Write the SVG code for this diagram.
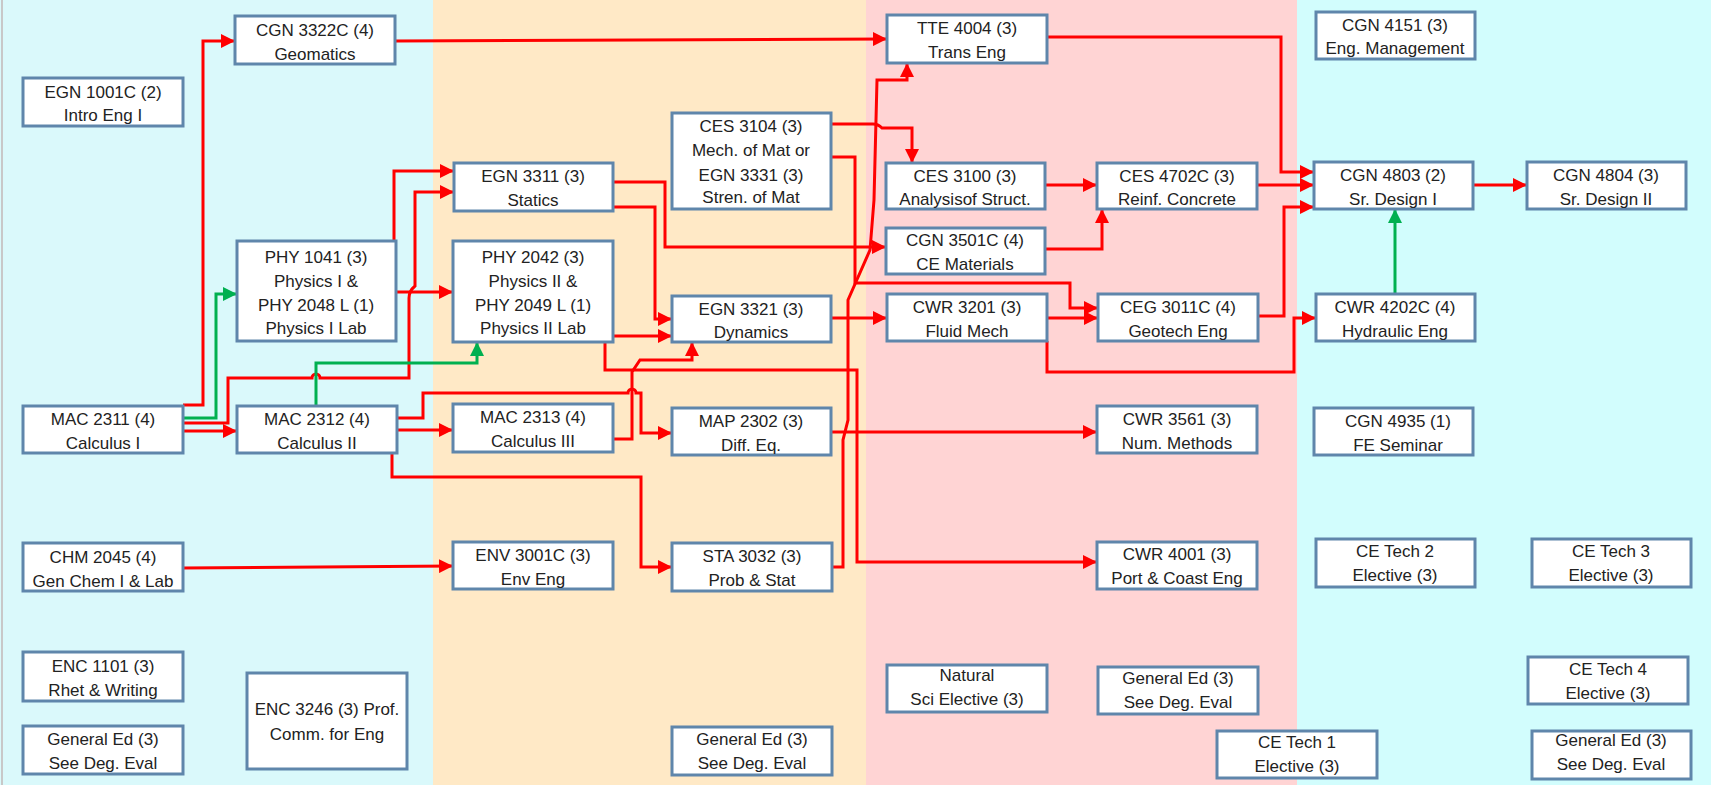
<svg xmlns="http://www.w3.org/2000/svg" width="1711" height="785" viewBox="0 0 1711 785">
<defs>
<style>
.b{fill:#fff;stroke:#5F86AB;stroke-width:3}
.t{font-family:"Liberation Sans",Arial,sans-serif;font-size:17px;fill:#222;text-anchor:middle}
.r{fill:none;stroke:#FF0000;stroke-width:3;stroke-linejoin:miter}
.g{fill:none;stroke:#00B050;stroke-width:3}
.ar{marker-end:url(#ra)}
.ag{marker-end:url(#ga)}
</style>
<marker id="ra" markerUnits="userSpaceOnUse" markerWidth="14" markerHeight="14" refX="12" refY="6" orient="auto" viewBox="0 0 12 12"><path d="M0,0 L12,6 L0,12 z" fill="#FF0000"/></marker>
<marker id="ga" markerUnits="userSpaceOnUse" markerWidth="14" markerHeight="14" refX="12" refY="6" orient="auto" viewBox="0 0 12 12"><path d="M0,0 L12,6 L0,12 z" fill="#00B050"/></marker>
</defs>
<g id="background">
<rect x="0" y="0" width="433" height="785" fill="#DAF9FB"/>
<rect x="433" y="0" width="433" height="785" fill="#FFE9C6"/>
<rect x="866" y="0" width="431" height="785" fill="#FFD4D4"/>
<rect x="1297" y="0" width="414" height="785" fill="#D2FDFD"/>
<line x1="2" y1="0" x2="2" y2="785" stroke="#C8C8C8" stroke-width="2"/>
</g>
<g id="connectors">
<path class="r ar" d="M183,405 H203 V41 H235"/>
<path class="g ag" d="M183,418 H216 V294 H237"/>
<path class="r ar" d="M183,423 H228 V378 H312 a4,4 0 0 1 8,0 H409 V298 Q409,291 415,286 V192 H454"/>
<path class="r ar" d="M394,241 V171 H454"/>
<path class="r ar" d="M396,292 H453"/>
<path class="r ar" d="M183,431 H237"/>
<path class="g ag" d="M316,406 V363 H477 V342"/>
<path class="r ar" d="M397,430 H453"/>
<path class="r ar" d="M397,418 H423 V393 H628 a4,4 0 0 1 8,0 H641 V433 H672"/>
<path class="r ar" d="M392,453 V477 H641 V567 H672"/>
<path class="r ar" d="M183,568 L453,566"/>
<path class="r ar" d="M395,41 L887,39"/>
<path class="r ar" d="M613,182 H665 V247 H886"/>
<path class="r ar" d="M613,207 H655 V319 H672"/>
<path class="r ar" d="M613,336 H672"/>
<path class="r ar" d="M613,439 H632 V372 L640,360 H692 V342"/>
<path class="r ar" d="M605,342 V370 H857 V562 H1097"/>
<path class="r ar" d="M831,124 H873 Q878,124 882,128 H912 V163"/>
<path class="r ar" d="M831,157 H855 V283 H1070 V308 H1098"/>
<path class="r ar" d="M832,567 H843 V440 L848,420 V300 L870,250 L874,200 L877,80 H907 V63"/>
<path class="r ar" d="M831,318 H887"/>
<path class="r ar" d="M831,432 H1097"/>
<path class="r ar" d="M1045,185 H1097"/>
<path class="r ar" d="M1045,249 H1102 V209"/>
<path class="r ar" d="M1047,318 H1098"/>
<path class="r ar" d="M1047,341 V372 H1294 V318 H1316"/>
<path class="r ar" d="M1258,316 H1284 V207 H1314"/>
<path class="r ar" d="M1257,185 H1314"/>
<path class="r ar" d="M1047,37 H1281 V172 H1314"/>
<path class="r ar" d="M1473,185 H1527"/>
<path class="g ag" d="M1395,294 V209"/>
</g>
<g id="n1"><rect class="b" x="23" y="78" width="160" height="48"/><text class="t" x="103" y="98">EGN 1001C (2)</text><text class="t" x="103" y="121">Intro Eng I</text></g>
<g id="n2"><rect class="b" x="235" y="16" width="160" height="48"/><text class="t" x="315" y="36">CGN 3322C (4)</text><text class="t" x="315" y="60">Geomatics</text></g>
<g id="n3"><rect class="b" x="237" y="241" width="159" height="100"/><text class="t" x="316" y="263">PHY 1041 (3)</text><text class="t" x="316" y="287">Physics I &amp;</text><text class="t" x="316" y="311">PHY 2048 L (1)</text><text class="t" x="316" y="334">Physics I Lab</text></g>
<g id="n4"><rect class="b" x="23" y="406" width="160" height="47"/><text class="t" x="103" y="425">MAC 2311 (4)</text><text class="t" x="103" y="449">Calculus I</text></g>
<g id="n5"><rect class="b" x="237" y="406" width="160" height="47"/><text class="t" x="317" y="425">MAC 2312 (4)</text><text class="t" x="317" y="449">Calculus II</text></g>
<g id="n6"><rect class="b" x="23" y="543" width="160" height="48"/><text class="t" x="103" y="563">CHM 2045 (4)</text><text class="t" x="103" y="587">Gen Chem I &amp; Lab</text></g>
<g id="n7"><rect class="b" x="23" y="652" width="160" height="49"/><text class="t" x="103" y="672">ENC 1101 (3)</text><text class="t" x="103" y="696">Rhet &amp; Writing</text></g>
<g id="n8"><rect class="b" x="23" y="726" width="160" height="48"/><text class="t" x="103" y="745">General Ed (3)</text><text class="t" x="103" y="769">See Deg. Eval</text></g>
<g id="n9"><rect class="b" x="247" y="673" width="160" height="96"/><text class="t" x="327" y="715">ENC 3246 (3) Prof.</text><text class="t" x="327" y="740">Comm. for Eng</text></g>
<g id="n10"><rect class="b" x="454" y="163" width="159" height="48"/><text class="t" x="533" y="182">EGN 3311 (3)</text><text class="t" x="533" y="206">Statics</text></g>
<g id="n11"><rect class="b" x="672" y="113" width="159" height="96"/><text class="t" x="751" y="132">CES 3104 (3)</text><text class="t" x="751" y="156">Mech. of Mat or</text><text class="t" x="751" y="181">EGN 3331 (3)</text><text class="t" x="751" y="203">Stren. of Mat</text></g>
<g id="n12"><rect class="b" x="453" y="241" width="160" height="101"/><text class="t" x="533" y="263">PHY 2042 (3)</text><text class="t" x="533" y="287">Physics II &amp;</text><text class="t" x="533" y="311">PHY 2049 L (1)</text><text class="t" x="533" y="334">Physics II Lab</text></g>
<g id="n13"><rect class="b" x="672" y="296" width="159" height="46"/><text class="t" x="751" y="315">EGN 3321 (3)</text><text class="t" x="751" y="338">Dynamics</text></g>
<g id="n14"><rect class="b" x="453" y="404" width="160" height="48"/><text class="t" x="533" y="423">MAC 2313 (4)</text><text class="t" x="533" y="447">Calculus III</text></g>
<g id="n15"><rect class="b" x="672" y="408" width="159" height="47"/><text class="t" x="751" y="427">MAP 2302 (3)</text><text class="t" x="751" y="451">Diff. Eq.</text></g>
<g id="n16"><rect class="b" x="453" y="542" width="160" height="47"/><text class="t" x="533" y="561">ENV 3001C (3)</text><text class="t" x="533" y="585">Env Eng</text></g>
<g id="n17"><rect class="b" x="672" y="543" width="160" height="48"/><text class="t" x="752" y="562">STA 3032 (3)</text><text class="t" x="752" y="586">Prob &amp; Stat</text></g>
<g id="n18"><rect class="b" x="672" y="727" width="160" height="48"/><text class="t" x="752" y="745">General Ed (3)</text><text class="t" x="752" y="769">See Deg. Eval</text></g>
<g id="n19"><rect class="b" x="887" y="15" width="160" height="48"/><text class="t" x="967" y="34">TTE 4004 (3)</text><text class="t" x="967" y="58">Trans Eng</text></g>
<g id="n20"><rect class="b" x="886" y="163" width="159" height="46"/><text class="t" x="965" y="182">CES 3100 (3)</text><text class="t" x="965" y="205">Analysisof Struct.</text></g>
<g id="n21"><rect class="b" x="1097" y="163" width="160" height="46"/><text class="t" x="1177" y="182">CES 4702C (3)</text><text class="t" x="1177" y="205">Reinf. Concrete</text></g>
<g id="n22"><rect class="b" x="886" y="228" width="159" height="46"/><text class="t" x="965" y="246">CGN 3501C (4)</text><text class="t" x="965" y="270">CE Materials</text></g>
<g id="n23"><rect class="b" x="887" y="294" width="160" height="47"/><text class="t" x="967" y="313">CWR 3201 (3)</text><text class="t" x="967" y="337">Fluid Mech</text></g>
<g id="n24"><rect class="b" x="1098" y="294" width="160" height="47"/><text class="t" x="1178" y="313">CEG 3011C (4)</text><text class="t" x="1178" y="337">Geotech Eng</text></g>
<g id="n25"><rect class="b" x="1097" y="406" width="160" height="47"/><text class="t" x="1177" y="425">CWR 3561 (3)</text><text class="t" x="1177" y="449">Num. Methods</text></g>
<g id="n26"><rect class="b" x="1097" y="542" width="160" height="47"/><text class="t" x="1177" y="560">CWR 4001 (3)</text><text class="t" x="1177" y="584">Port &amp; Coast Eng</text></g>
<g id="n27"><rect class="b" x="887" y="665" width="160" height="47"/><text class="t" x="967" y="681">Natural</text><text class="t" x="967" y="705">Sci Elective (3)</text></g>
<g id="n28"><rect class="b" x="1098" y="667" width="160" height="47"/><text class="t" x="1178" y="684">General Ed (3)</text><text class="t" x="1178" y="708">See Deg. Eval</text></g>
<g id="n29"><rect class="b" x="1217" y="731" width="160" height="47"/><text class="t" x="1297" y="748">CE Tech 1</text><text class="t" x="1297" y="772">Elective (3)</text></g>
<g id="n30"><rect class="b" x="1316" y="12" width="159" height="47"/><text class="t" x="1395" y="31">CGN 4151 (3)</text><text class="t" x="1395" y="54">Eng. Management</text></g>
<g id="n31"><rect class="b" x="1314" y="162" width="159" height="47"/><text class="t" x="1393" y="181">CGN 4803 (2)</text><text class="t" x="1393" y="205">Sr. Design I</text></g>
<g id="n32"><rect class="b" x="1527" y="162" width="159" height="47"/><text class="t" x="1606" y="181">CGN 4804 (3)</text><text class="t" x="1606" y="205">Sr. Design II</text></g>
<g id="n33"><rect class="b" x="1316" y="294" width="159" height="47"/><text class="t" x="1395" y="313">CWR 4202C (4)</text><text class="t" x="1395" y="337">Hydraulic Eng</text></g>
<g id="n34"><rect class="b" x="1314" y="408" width="159" height="47"/><text class="t" x="1398" y="427">CGN 4935 (1)</text><text class="t" x="1398" y="451">FE Seminar</text></g>
<g id="n35"><rect class="b" x="1316" y="539" width="159" height="48"/><text class="t" x="1395" y="557">CE Tech 2</text><text class="t" x="1395" y="581">Elective (3)</text></g>
<g id="n36"><rect class="b" x="1532" y="539" width="159" height="48"/><text class="t" x="1611" y="557">CE Tech 3</text><text class="t" x="1611" y="581">Elective (3)</text></g>
<g id="n37"><rect class="b" x="1528" y="657" width="160" height="47"/><text class="t" x="1608" y="675">CE Tech 4</text><text class="t" x="1608" y="699">Elective (3)</text></g>
<g id="n38"><rect class="b" x="1532" y="731" width="159" height="48"/><text class="t" x="1611" y="746">General Ed (3)</text><text class="t" x="1611" y="770">See Deg. Eval</text></g>
</svg>
